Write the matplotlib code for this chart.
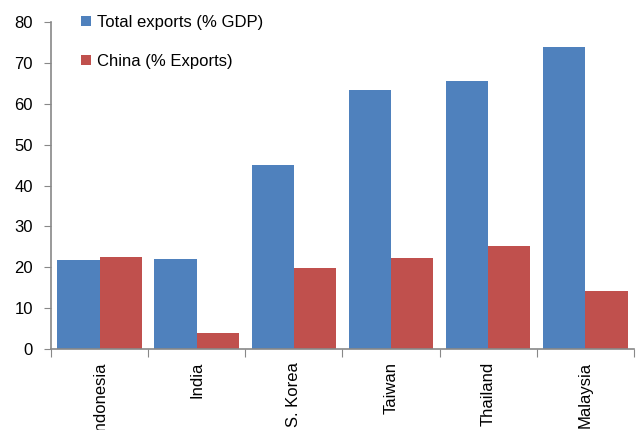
import matplotlib
matplotlib.use("Agg")
import matplotlib.pyplot as plt
import numpy as np

categories = ["Indonesia", "India", "S. Korea", "Taiwan", "Thailand", "Malaysia"]
total_exports = [21.8, 22.0, 45.0, 63.4, 65.5, 73.9]
china_share = [22.5, 3.9, 19.8, 22.2, 25.1, 14.1]
series_labels = ["Total exports (% GDP)", "China (% Exports)"]

plt.rcParams['font.family'] = ['Liberation Sans', 'DejaVu Sans']

fig = plt.figure(figsize=(6.37, 4.30), dpi=100)
ax = fig.add_axes([0.080, 0.188, 0.915, 0.761])

x = np.arange(len(categories))
w = 0.435
blue = "#4F81BD"
red = "#C0504D"
ax.bar(x + 0.5 - w / 2, total_exports, width=w, color=blue, label=series_labels[0])
ax.bar(x + 0.5 + w / 2, china_share, width=w, color=red, label=series_labels[1])

ax.set_xlim(0, len(categories))
ax.set_ylim(0, 80)
ax.set_yticks(range(0, 81, 10))
ax.tick_params(axis='y', labelsize=12, length=5, color="#888888", pad=8)

ax.set_xticks(np.arange(len(categories) + 1))
ax.set_xticklabels([])
ax.tick_params(axis='x', length=6, color="#888888", direction='out')
ax.set_xticks(x + 0.5, minor=True)
ax.set_xticklabels(categories, minor=True, rotation=90, fontsize=12, va='top', ha='center')
ax.tick_params(axis='x', which='minor', length=0, pad=9)

for s in ["top", "right"]:
    ax.spines[s].set_visible(False)
for s in ["left", "bottom"]:
    ax.spines[s].set_color("#888888")
    ax.spines[s].set_linewidth(1.2)

leg = ax.legend(loc="upper left", bbox_to_anchor=(0.025, 1.068), frameon=False,
                fontsize=12, handlelength=0.6, handleheight=0.6, handletextpad=0.4,
                labelspacing=1.45)

fig.savefig("out.png", dpi=100)
